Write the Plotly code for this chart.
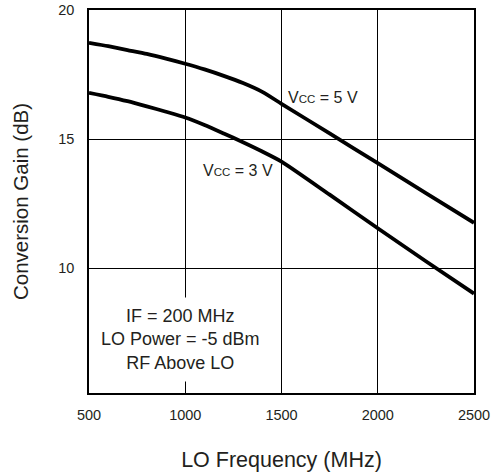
import plotly.graph_objects as go

freq_mhz = [500, 600, 700, 800, 900, 1000, 1100, 1200, 1300, 1400, 1500, 1750, 2000, 2250, 2500]
gain_5v = [18.73, 18.60, 18.45, 18.30, 18.12, 17.92, 17.70, 17.45, 17.17, 16.83, 16.37, 15.22, 14.07, 12.91, 11.76]
gain_3v = [16.79, 16.64, 16.47, 16.27, 16.06, 15.84, 15.55, 15.22, 14.88, 14.52, 14.13, 12.85, 11.55, 10.27, 9.02]
x_ticks = [500, 1000, 1500, 2000, 2500]
y_ticks = [10, 15, 20]

FONT = "Liberation Sans, Arial, Helvetica, sans-serif"
INK = "#231f20"

fig = go.Figure()
for g in (gain_5v, gain_3v):
    fig.add_trace(go.Scatter(x=freq_mhz, y=g, mode="lines",
                             line=dict(color="black", width=3.8, shape="spline", smoothing=0.6),
                             showlegend=False, hoverinfo="skip"))

fig.add_annotation(x=1713, y=16.63, xref="x", yref="y", showarrow=False,
                   text="V<span style='font-size:11.5px'>CC</span> = 5 V",
                   font=dict(family=FONT, size=16, color=INK))
fig.add_annotation(x=1275, y=13.77, xref="x", yref="y", showarrow=False,
                   text="V<span style='font-size:11.5px'>CC</span> = 3 V",
                   font=dict(family=FONT, size=16, color=INK))
fig.add_annotation(x=977, y=7.25, xref="x", yref="y", showarrow=False,
                   text="IF = 200 MHz<br>LO Power = -5 dBm<br>RF Above LO",
                   font=dict(family=FONT, size=18, color=INK),
                   bgcolor="white", borderpad=8, align="center")

fig.update_layout(
    width=491, height=476,
    margin=dict(l=88.7, r=17, t=10, b=83.3),
    paper_bgcolor="white", plot_bgcolor="white",
    font=dict(family=FONT, color=INK),
)
fig.update_xaxes(range=[499.99, 2500.01], tickvals=x_ticks, ticktext=[str(v) for v in x_ticks],
                 showgrid=True, gridcolor="black", gridwidth=1.2,
                 showline=True, linecolor="black", linewidth=1.5, mirror=True,
                 ticks="", ticklabelstandoff=8, ticklabeloverflow="allow",
                 tickfont=dict(size=14.5, family=FONT, color=INK),
                 title=dict(text="LO Frequency (MHz)", font=dict(size=21.5, family=FONT, color=INK), standoff=30),
                 zeroline=False, automargin=False)
fig.update_yaxes(range=[5.17, 20.001], tickvals=y_ticks, ticktext=[str(v) for v in y_ticks],
                 showgrid=True, gridcolor="black", gridwidth=1.2,
                 showline=True, linecolor="black", linewidth=1.5, mirror=True,
                 ticks="", ticklabelstandoff=10, ticklabeloverflow="allow",
                 tickfont=dict(size=14.5, family=FONT, color=INK),
                 title=dict(text="Conversion Gain (dB)", font=dict(size=20.5, family=FONT, color=INK), standoff=24),
                 zeroline=False, automargin=False)

fig.write_html("out.html", config={"displayModeBar": False},
               post_script="document.body.style.margin='0';")
